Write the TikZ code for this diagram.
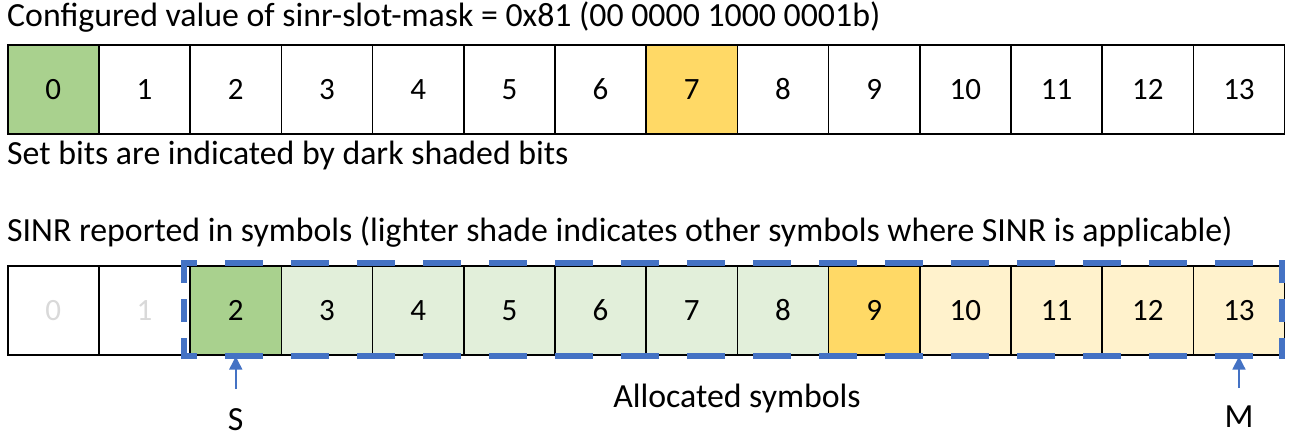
\documentclass[tikz,border=0pt]{standalone}
\usepackage{fontspec}
\setmainfont{Carlito}
\usetikzlibrary{arrows.meta}
\definecolor{dgreen}{HTML}{A9D18E}
\definecolor{lgreen}{HTML}{E2EFDA}
\definecolor{dyellow}{HTML}{FFD966}
\definecolor{lyellow}{HTML}{FFF2CC}
\definecolor{obblue}{HTML}{4472C4}
\definecolor{faint}{HTML}{D9D9D9}
\begin{document}
\begin{tikzpicture}[x=1pt,y=-1pt,
  cell/.style={draw=black, line width=1.5pt, minimum width=91.2pt, minimum height=89pt,
    inner sep=0pt, anchor=north west, font=\fontsize{31}{36}\selectfont},
  lbl/.style={inner sep=0pt, font=\fontsize{33.8}{40}\selectfont},
  allocH/.style={draw=obblue, line width=5.5pt, dash pattern=on 38pt off 28pt, dash phase=22pt},
  allocV/.style={draw=obblue, line width=5.5pt, dash pattern=on 23pt off 16pt},
  ptr/.style={draw=obblue, line width=1.5pt, -{Triangle[width=13pt,length=13pt]}}]
\useasboundingbox (0,0) rectangle (1292,440);

\node[lbl, anchor=base west] (title) at (7,26) {Configured value of sinr-slot-mask = 0x81 (00 0000 1000 0001b)};

% top row
\foreach \i in {0,...,13} {
  \node[cell] (t\i) at ({7+\i*91.2},44) {\i};
}
\node[cell, fill=dgreen] at (t0.north west) {0};
\node[cell, fill=dyellow] at (t7.north west) {7};

\node[lbl, anchor=base west] (setbits) at (7,164) {Set bits are indicated by dark shaded bits};
\node[lbl, anchor=base west] (sinr) at (7,241) {SINR reported in symbols (lighter shade indicates other symbols where SINR is applicable)};

% bottom row
\node[cell, text=faint] (b0) at (7,265) {0};
\node[cell, text=faint] (b1) at ({7+91.2},265) {1};
\node[cell, fill=dgreen] (b2) at ({7+2*91.2},265) {2};
\foreach \i in {3,...,8} {
  \node[cell, fill=lgreen] (b\i) at ({7+\i*91.2},265) {\i};
}
\node[cell, fill=dyellow] (b9) at ({7+9*91.2},265) {9};
\foreach \i in {10,...,13} {
  \node[cell, fill=lyellow] (b\i) at ({7+\i*91.2},265) {\i};
}

% allocated region
\draw[allocH] (181.25,263) -- (1284.75,263);
\draw[allocH] (181.25,356) -- (1284.75,356);
\draw[allocV] (184,260.25) -- (184,358.75);
\draw[allocV] (1282,260.25) -- (1282,358.75);

% pointers
\coordinate (sfoot) at (b2.south |- 0,389);
\coordinate (mfoot) at (b13.south |- 0,388);
\draw[ptr] (sfoot) -- ([yshift=-1pt]b2.south);
\draw[ptr] (mfoot) -- ([yshift=-1pt]b13.south);
\node[lbl, anchor=base] (S) at (b2.south |- 0,430) {S};
\node[lbl, anchor=base] (M) at (b13.south |- 0,427) {M};
\node[lbl, anchor=base] (allocl) at (737,407) {Allocated symbols};
\end{tikzpicture}
\end{document}
